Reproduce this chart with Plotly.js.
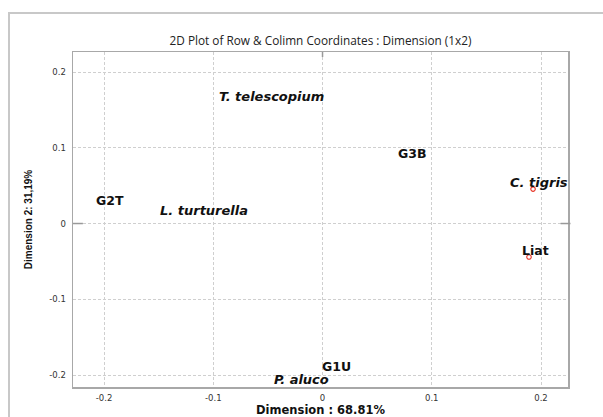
<!DOCTYPE html>
<html>
<head>
<meta charset="utf-8">
<script src="https://cdn.plot.ly/plotly-3.0.1.min.js"></script>
<style>
  html, body { margin: 0; padding: 0; background: #ffffff; }
  #chart { width: 603px; height: 417px; }
</style>
</head>
<body>
<div id="chart"></div>
<script>
// Correspondence analysis map: sites (rows) and species (columns)
const labels  = ['T. telescopium', 'G3B', 'C. tigris', 'Liat', 'G2T', 'L. turturella', 'G1U', 'P. aluco'];
const dim1    = [-0.0526, 0.0773, 0.1927, 0.1890, -0.2000, -0.1144, 0.0069, -0.0243];
const dim2    = [0.1597, 0.0845, 0.0455, -0.0442, 0.0224, 0.0092, -0.1967, -0.2150];
const isSpecies = [true, false, true, false, false, true, false, true];
const showMarker = [false, false, true, true, false, false, false, false];
const tickVals = [-0.2, -0.1, 0, 0.1, 0.2];
const tickText = ['-0.2', '-0.1', '0', '0.1', '0.2'];

const labelFont = 'DejaVu Sans, Verdana, sans-serif';

const points = {
  type: 'scatter',
  mode: 'markers',
  x: dim1,
  y: dim2,
  cliponaxis: false,
  hoverinfo: 'text',
  text: labels,
  marker: {
    symbol: 'circle',
    size: 4.5,
    color: showMarker.map(s => s ? '#ffffff' : 'rgba(0,0,0,0)'),
    line: { color: showMarker.map(s => s ? '#e8392b' : 'rgba(0,0,0,0)'), width: 1.2 }
  },
  showlegend: false
};

// point labels, drawn just above and right of each point
const pointLabels = labels.map((t, i) => ({
  x: dim1[i], y: dim2[i], xref: 'x', yref: 'y',
  text: isSpecies[i] ? '<i><b>' + t + '</b></i>' : '<b>' + t + '</b>',
  showarrow: false,
  xanchor: 'center', yanchor: 'middle',
  xshift: 6, yshift: 6.5,
  font: { family: labelFont, size: isSpecies[i] ? 13 : 12.5, color: '#111111' }
}));

const gridStyle = { gridcolor: '#cfcfcf', gridwidth: 1, griddash: '3px,2px' };
const tickFont = { family: 'DejaVu Sans, sans-serif', size: 8.5, color: '#333333' };

const layout = {
  width: 603, height: 417,
  margin: { l: 73, r: 35, t: 52, b: 30 },
  paper_bgcolor: '#ffffff', plot_bgcolor: '#ffffff',
  title: {
    text: '2D Plot of Row & Colimn Coordinates : Dimension (1x2)',
    font: { family: 'Open Sans, sans-serif', size: 11.8, color: '#222222' },
    x: 0.5, xref: 'paper', xanchor: 'center',
    y: 1 - 41 / 417, yref: 'container', yanchor: 'middle'
  },
  xaxis: Object.assign({
    range: [-0.2284, 0.2247],
    tickvals: tickVals, ticktext: tickText,
    tickfont: tickFont,
    showline: true, mirror: true, linecolor: '#a8a8a8', linewidth: 1.5,
    zeroline: false, ticks: 'outside', ticklen: 2, tickcolor: 'rgba(0,0,0,0)',
    title: { text: '<b>Dimension : 68.81%</b>',
             font: { family: labelFont, size: 11.5, color: '#111111' } }
  }, gridStyle),
  yaxis: Object.assign({
    range: [-0.2158, 0.2264],
    tickvals: tickVals, ticktext: tickText,
    tickfont: tickFont,
    showline: true, mirror: true, linecolor: '#a8a8a8', linewidth: 1.5,
    zeroline: false, ticks: '', ticklabelstandoff: 4,
    automargin: true,
    title: { text: '<b>Dimension 2: 31,19%</b>', standoff: 14,
             font: { family: 'Liberation Sans Narrow, Arial Narrow, sans-serif', size: 10, color: '#111111' } }
  }, gridStyle),
  annotations: pointLabels,
  shapes: [
    // outer frame around the figure
    { type: 'rect', xref: 'paper', yref: 'paper',
      x0: (9 - 73) / 495, x1: 1.3, y0: -0.3, y1: (387 - 13) / 335,
      line: { color: '#c8c8c8', width: 2 }, fillcolor: 'rgba(0,0,0,0)', layer: 'below' },
    // small marks where the zero lines meet the plot border
    { type: 'line', xref: 'x', yref: 'paper', x0: 0, x1: 0, y0: 1, y1: 0.985,
      line: { color: '#999999', width: 1.5 } },
    { type: 'line', xref: 'paper', yref: 'y', x0: 0, x1: 0.02, y0: 0, y1: 0,
      line: { color: '#999999', width: 1.5 } },
    { type: 'line', xref: 'paper', yref: 'y', x0: 0.985, x1: 1.005, y0: 0, y1: 0,
      line: { color: '#999999', width: 1.5 } }
  ]
};

Plotly.newPlot('chart', [points], layout, { displayModeBar: false, staticPlot: true });
</script>
</body>
</html>
